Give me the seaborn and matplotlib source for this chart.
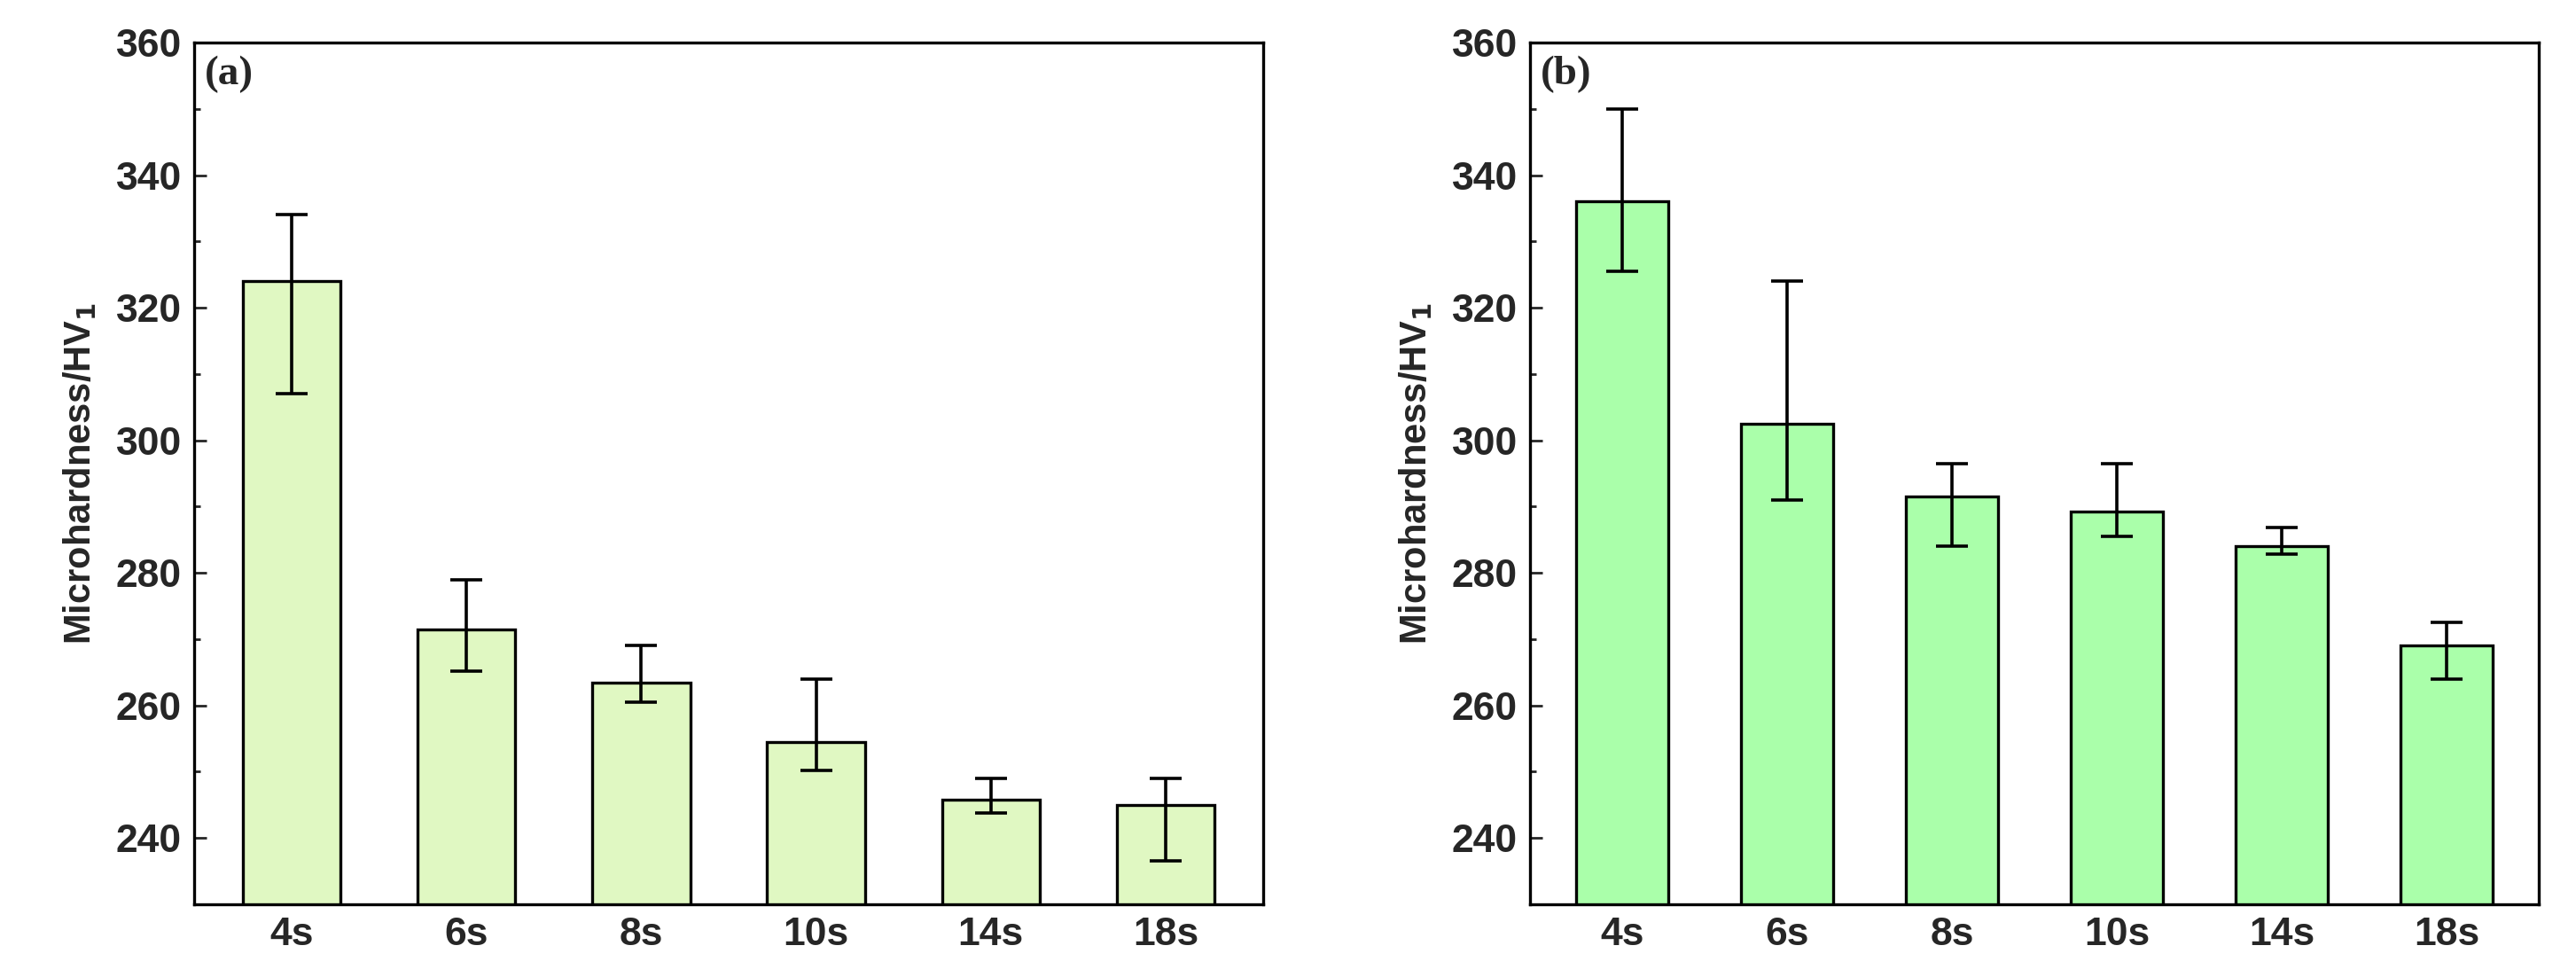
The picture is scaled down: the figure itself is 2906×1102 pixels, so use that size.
import matplotlib
matplotlib.use("Agg")
import matplotlib.pyplot as plt
import numpy as np
import pandas as pd
import seaborn as sns
from matplotlib.ticker import MultipleLocator

times = ['4s', '6s', '8s', '10s', '14s', '18s']
hv_a = [324.0, 271.5, 263.5, 254.5, 245.8, 245.0]
hi_a = [334.0, 279.0, 269.0, 264.0, 249.0, 249.0]
lo_a = [307.0, 265.2, 260.5, 250.2, 243.8, 236.5]
hv_b = [336.0, 302.5, 291.5, 289.2, 284.0, 269.0]
hi_b = [350.0, 324.0, 296.5, 296.5, 286.8, 272.5]
lo_b = [325.5, 291.0, 284.0, 285.5, 282.8, 264.0]

sns.set_theme(style="white")
plt.rcParams['font.family'] = ['Liberation Sans', 'DejaVu Sans']
plt.rcParams['font.weight'] = 'bold'

fig = plt.figure(figsize=(29.06, 11.02), dpi=100)
ax1 = fig.add_axes([219/2906, 82/1102, 1206/2906, 972/1102])
ax2 = fig.add_axes([1726/2906, 82/1102, 1138/2906, 972/1102])

panels = [(ax1, hv_a, hi_a, lo_a, '#E0F8C2', '(a)'),
          (ax2, hv_b, hi_b, lo_b, '#AAFFAA', '(b)')]
for ax, hv, hi, lo, color, tag in panels:
    df = pd.DataFrame({'time': times, 'hv': hv})
    sns.barplot(data=df, x='time', y='hv', color=color, width=0.56,
                edgecolor='black', linewidth=2.4, saturation=1, ax=ax)
    yerr = [np.array(hv) - np.array(lo), np.array(hi) - np.array(hv)]
    ax.errorbar(range(len(times)), hv, yerr=yerr, fmt='none', ecolor='black',
                elinewidth=2.6, capsize=13, capthick=2.6)
    ax.set_ylim(230, 360)
    ax.yaxis.set_major_locator(MultipleLocator(20))
    ax.yaxis.set_minor_locator(MultipleLocator(10))
    ax.tick_params(axis='both', which='major', direction='in', length=10, width=2,
                   labelsize=32, pad=10, left=True, bottom=True)
    ax.tick_params(axis='y', which='minor', direction='in', length=5, width=2, left=True)
    for lab in ax.get_xticklabels() + ax.get_yticklabels():
        lab.set_fontweight('bold')
    for s in ax.spines.values():
        s.set_linewidth(2.4)
        s.set_color('black')
    ax.set_xlabel('')
    ax.set_ylabel('Microhardness/HV$_\\mathbf{1}$', fontsize=30, fontweight='bold', labelpad=14)
    ax.text(0.01, 0.985, tag, transform=ax.transAxes, ha='left', va='top',
            fontsize=34, fontweight='bold', family='Liberation Serif')

fig.savefig('out.png', dpi=100)
